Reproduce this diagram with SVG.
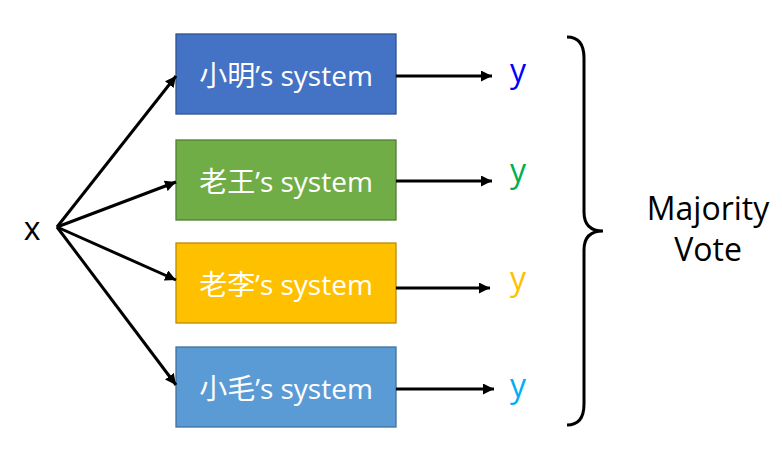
<svg xmlns="http://www.w3.org/2000/svg" width="782" height="452" viewBox="0 0 782 452">
<defs>
<marker id="ah" viewBox="0 0 10 10" refX="10" refY="5" markerWidth="11" markerHeight="11" markerUnits="userSpaceOnUse" orient="auto">
<path d="M0,0 L10,5 L0,10 z" fill="#000"/>
</marker>
<style>
.box{stroke-width:1.3}
.bt{font-family:"Open Sans","Noto Sans CJK SC",sans-serif;font-size:28px;fill:#fff;text-anchor:middle}
.lbl{font-family:"Open Sans","Liberation Sans",sans-serif;font-size:32px;text-anchor:middle}
.conn{stroke:#000;stroke-width:3;fill:none;marker-end:url(#ah)}
</style>
</defs>
<rect width="782" height="452" fill="#fff"/>
<g id="x"><text class="lbl" x="32" y="240" fill="#000">x</text></g>
<g id="sys1"><rect class="box" x="176" y="34" width="220" height="80" fill="#4472C4" stroke="#2F528F"/><text class="bt" x="286" y="86">小明’s system</text></g>
<g id="sys2"><rect class="box" x="176" y="140" width="220" height="80" fill="#70AD47" stroke="#507E32"/><text class="bt" x="286" y="192">老王’s system</text></g>
<g id="sys3"><rect class="box" x="176" y="243" width="220" height="80" fill="#FFC000" stroke="#BC8C00"/><text class="bt" x="286" y="295">老李’s system</text></g>
<g id="sys4"><rect class="box" x="176" y="347" width="220" height="80" fill="#5B9BD5" stroke="#41719C"/><text class="bt" x="286" y="399">小毛’s system</text></g>
<g id="y1"><text class="lbl" x="518" y="82" fill="#0000FF">y</text></g>
<g id="y2"><text class="lbl" x="518" y="182" fill="#00B050">y</text></g>
<g id="y3"><text class="lbl" x="518" y="290" fill="#FFC000">y</text></g>
<g id="y4"><text class="lbl" x="518" y="397" fill="#00B0F0">y</text></g>
<g id="vote">
<path d="M567,37 Q584,37 584,58 L584,212 Q584,231 603,231 Q584,231 584,250 L584,404 Q584,425 567,425" stroke="#000" stroke-width="3" fill="none"/>
<text class="lbl" x="708" y="220" font-size="34" fill="#000">Majority</text>
<text class="lbl" x="708" y="261" font-size="34" fill="#000">Vote</text>
</g>
<g id="connectors">
<line class="conn" x1="57" y1="227" x2="176" y2="76"/>
<line class="conn" x1="57" y1="227" x2="176" y2="182"/>
<line class="conn" x1="57" y1="227" x2="176" y2="280"/>
<line class="conn" x1="57" y1="227" x2="176" y2="385"/>
<line class="conn" x1="396" y1="76" x2="492" y2="76"/>
<line class="conn" x1="396" y1="181" x2="492" y2="181"/>
<line class="conn" x1="396" y1="288" x2="490" y2="288"/>
<line class="conn" x1="396" y1="389" x2="494" y2="389"/>
</g>
</svg>
